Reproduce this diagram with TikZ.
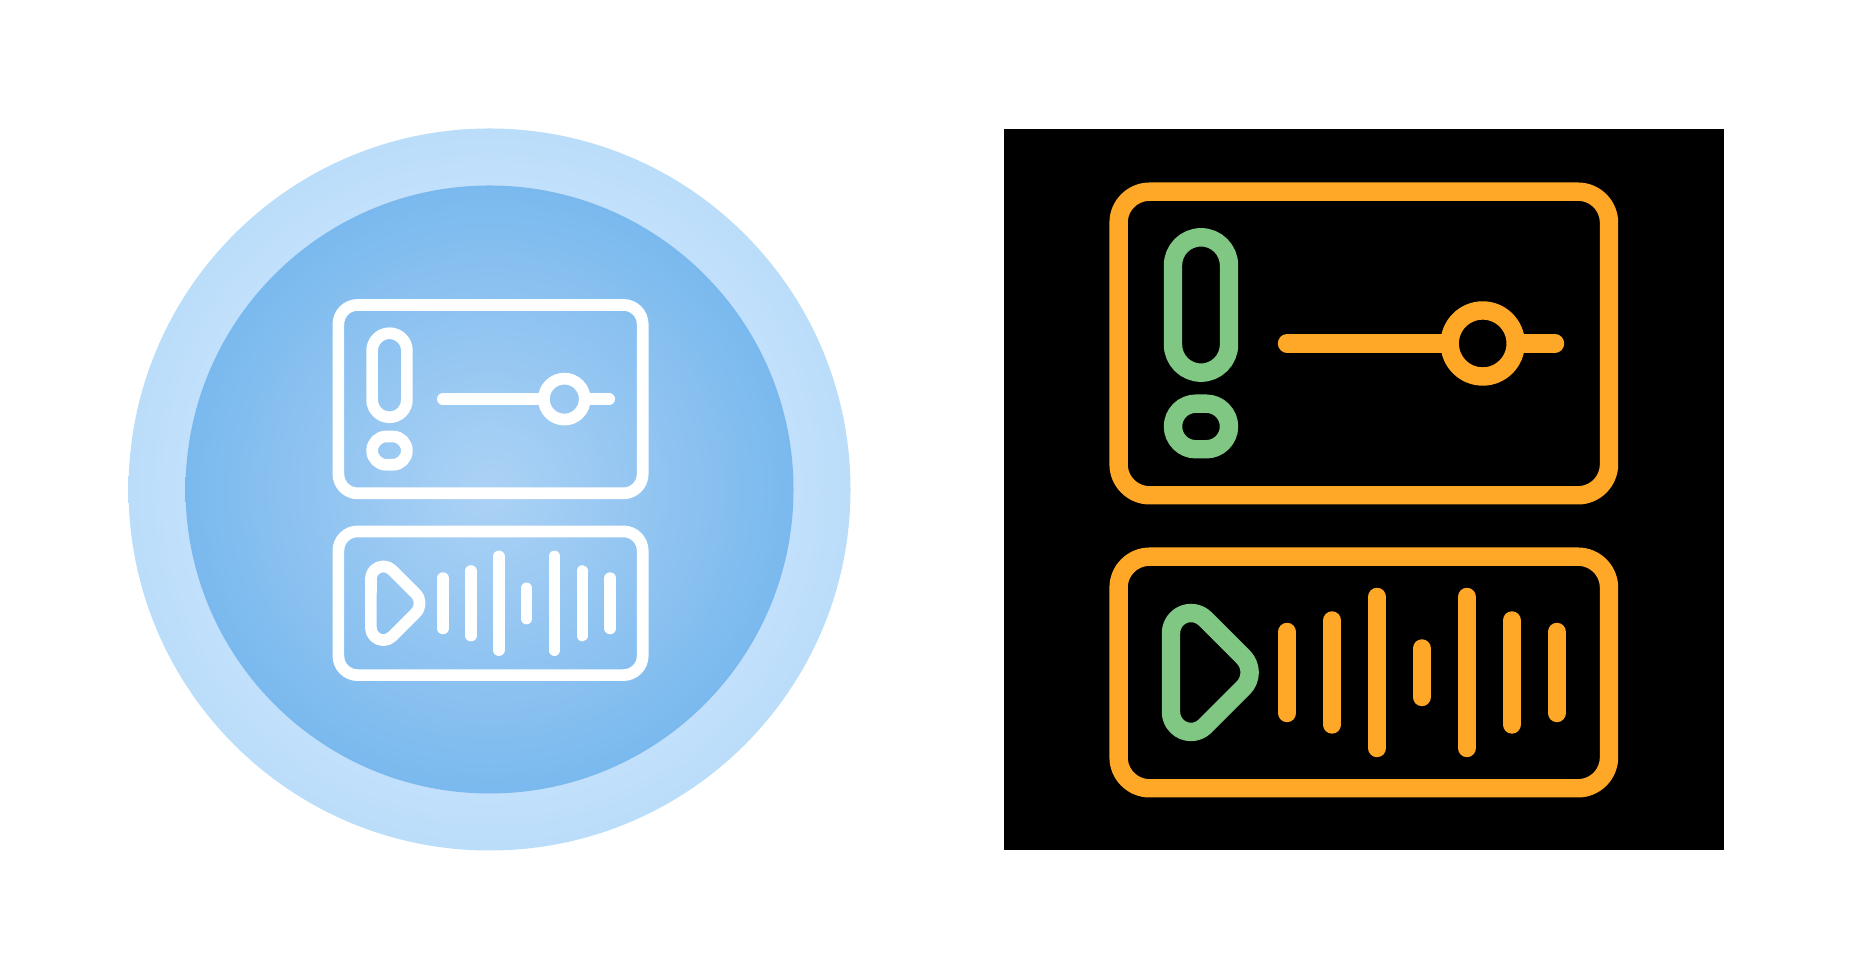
\documentclass[tikz,border=0pt]{standalone}
\definecolor{ringblue}{HTML}{BADDFA}
\definecolor{ringlight}{HTML}{C2E0FB}
\definecolor{discedge}{HTML}{7AB9EE}
\definecolor{disccentre}{HTML}{ACD2F5}
\definecolor{rimorange}{HTML}{FFA726}
\definecolor{capgreen}{HTML}{81C784}
\pgfdeclareradialshading{ringshade}{\pgfpoint{0bp}{0bp}}{%
  color(0bp)=(ringlight); color(21bp)=(ringlight);
  color(25bp)=(ringblue); color(50bp)=(ringblue)}
% #1 factor, #2 stroke, #3 outline colour, #4 accent colour
\newcommand{\mediaicon}[4]{
  \draw[#3,line width=#2,rounded corners=31pt*#1]
    (1118.6,191.7) rectangle (1609,495.3)
    (1118.6,556.7) rectangle (1609,788.3);
  \draw[#4,line width=#2,rounded corners=28pt*#1]
    (1173,237.3) rectangle (1229,372.7);
  \draw[#4,line width=#2,rounded corners=22.8pt*#1]
    (1173,403.7) rectangle (1229,449.3);
  \draw[#3,line width=#2,line cap=round]
    (1287,343.5) -- (1449.7,343.5)
    (1516,343.5) -- (1555,343.5);
  \draw[#3,line width=#2] (1482.7,343.5) circle[radius=33];
  \draw[#4,line width=#2,line join=round]
    (1171,633) arc[start angle=180,end angle=315,radius=20]
    -- (1243.2,656.9) arc[start angle=315,end angle=405,radius=22]
    -- (1205.1,726.1) arc[start angle=45,end angle=180,radius=20]
    -- cycle;
  \draw[#3,line width=#2,line cap=round]
    (1287.1,632) -- (1287.1,713)
    (1332.1,620.5) -- (1332.1,724.5)
    (1377.1,597) -- (1377.1,748)
    (1421.8,648.5) -- (1421.8,697)
    (1466.8,597) -- (1466.8,748)
    (1511.8,620.5) -- (1511.8,724.5)
    (1556.8,632) -- (1556.8,713);
}
\begin{document}
\begin{tikzpicture}[x=.25pt,y=-.25pt]
  \useasboundingbox (0,0) rectangle (1854,980);
  \fill[white] (0,0) rectangle (1854,980);
  % left badge
  \coordinate (discC) at (489.5,489.5);
  \shade[shading=ringshade] (discC) circle[radius=361];
  \shade[inner color=disccentre,outer color=discedge] (discC) circle[radius=304];
  \begin{scope}[shift={(-355.7,186)},scale=.6205]
    \mediaicon{.155125}{2.925pt}{white}{white}
  \end{scope}
  % right badge
  \fill[black] (1004,129) rectangle (1724,850);
  \mediaicon{.25}{4.6pt}{rimorange}{capgreen}
\end{tikzpicture}
\end{document}
